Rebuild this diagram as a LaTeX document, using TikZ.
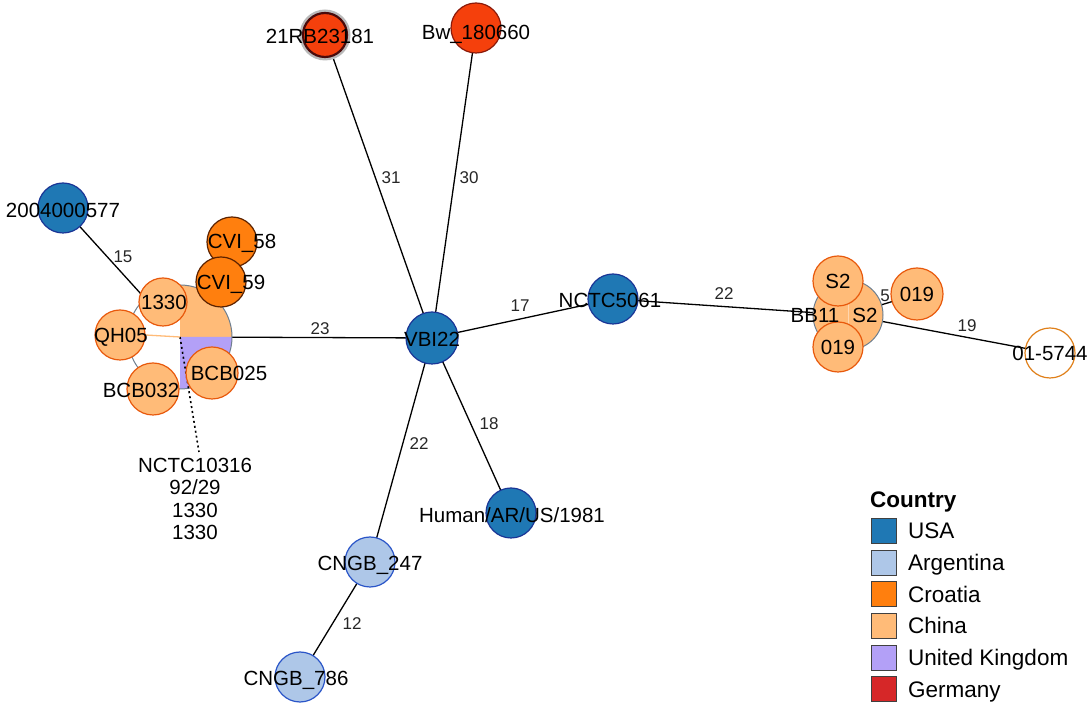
\documentclass[tikz,border=0pt]{standalone}
\usepackage{fontspec}
\setmainfont{Liberation Sans}
\usetikzlibrary{calc}
\pgfdeclarelayer{bg}
\pgfsetlayers{bg,main}
\definecolor{usa}{HTML}{1F78B4}
\definecolor{usaB}{HTML}{1A3596}
\definecolor{arg}{HTML}{AEC7E8}
\definecolor{argB}{HTML}{2A55C8}
\definecolor{cro}{HTML}{FF7F0E}
\definecolor{croB}{HTML}{5C2200}
\definecolor{chn}{HTML}{FFBB78}
\definecolor{chnB}{HTML}{E8590C}
\definecolor{uk}{HTML}{B3A0F7}
\definecolor{ger}{HTML}{D62728}
\definecolor{gerN}{HTML}{F5400C}
\definecolor{gerB}{HTML}{8B1A0A}
\definecolor{gerD}{HTML}{4A0A0A}
\definecolor{hubO}{HTML}{6F7F8F}
\definecolor{unk}{HTML}{E0801A}
\begin{document}
\begin{tikzpicture}[x=1pt,y=1pt,
  nd/.style={circle, minimum size=50pt, inner sep=0pt, line width=1.2pt},
  usaN/.style={nd, fill=usa, draw=usaB},
  argN/.style={nd, fill=arg, draw=argB},
  croN/.style={nd, fill=cro, draw=croB},
  chnN/.style={nd, fill=chn, draw=chnB},
  lbl/.style={font=\fontsize{20.5}{24}\selectfont, inner sep=0pt, text height=14.7pt, text depth=0pt},
  elbl/.style={font=\fontsize{17}{20}\selectfont, text=black!85, inner sep=0pt, text height=12.2pt, text depth=0pt},
  edgeline/.style={line width=1.3pt, black},
  legbox/.style={minimum size=25pt, inner sep=0pt, draw=black!75, line width=0.8pt},
  legtxt/.style={font=\fontsize{22.5}{26}\selectfont, anchor=west, inner sep=0pt, text height=16pt, text depth=0pt}]

\useasboundingbox (0,0) rectangle (1092,709);

% ---------- left hub (pie) ----------
\node[circle, minimum size=104pt, inner sep=0pt, fill=white] (hubL) at (180,372) {};
\fill[chn] (hubL.center) -- ++(52,0) arc[start angle=0, end angle=90, radius=52] -- cycle;
\fill[uk] (hubL.center) -- ++(0,-52) arc[start angle=270, end angle=360, radius=52] -- cycle;
\draw[hubO, line width=1pt] (hubL.center) circle[radius=52];
\coordinate (dotend) at (199,257);
\draw[line width=1.6pt, dash pattern=on 2pt off 3pt] (hubL.center) -- (dotend);

% ---------- nodes ----------
\draw[gray!55, line width=3pt] (325,674) circle[radius=24];
\node[nd, minimum size=44pt, fill=gerN, draw=gerD, line width=2.2pt] (r21) at (325,674) {};
\node[nd, fill=gerN, draw=gerB] (bw) at (476,681) {};
\node[usaN, minimum size=52pt] (vbi) at (432,371) {};
\node[usaN] (nctc5061) at (613,410) {};
\node[usaN] (n2004) at (63,501) {};
\node[usaN] (human) at (511,196) {};
\node[argN] (cngb247) at (370,147) {};
\node[argN] (cngb786) at (300,32) {};
\node[croN] (cvi58) at (232,467) {};
\node[croN] (cvi59) at (221,427) {};
\node[chnN, minimum size=48pt] (n1330) at (163,407) {};
\node[chnN] (qh05) at (120,374) {};
\node[chnN, minimum size=52pt] (bcb032) at (153,320) {};
\node[chnN, minimum size=52pt] (bcb025) at (212,336) {};

% right hub
\node[circle, minimum size=70pt, inner sep=0pt, fill=chn, draw=hubO, line width=1pt] (hubR) at (848,394) {};
\draw[chn!60!white, line width=0.8pt] (hubR.north) -- (hubR.south);
\node[chnN] (s2top) at (838,428) {};
\node[chnN] (n019b) at (838,362) {};
\node[chnN, minimum size=52pt] (n019r) at (917,415) {};
\node[nd, fill=white, draw=unk] (n5744) at (1050,356) {};

% ---------- edges ----------
\begin{pgfonlayer}{bg}
\draw[edgeline] (vbi.center) -- (r21.center);
\draw[edgeline] (vbi.center) -- (bw.center);
\draw[edgeline] (vbi.center) -- (nctc5061.center);
\draw[edgeline] (vbi.center) -- (hubL.center);
\draw[edgeline] (vbi.center) -- (human.center);
\draw[edgeline] (vbi.center) -- (cngb247.center);
\draw[edgeline] (cngb247.center) -- (cngb786.center);
\draw[edgeline] (n2004.center) -- (hubL.center);
\draw[edgeline] (nctc5061.center) -- (hubR.center);
\draw[edgeline] (hubR.center) -- (n5744.center);
\draw[edgeline] (hubR.center) -- (n019r.center);
\end{pgfonlayer}
\draw[chn, line width=1.3pt] (qh05.east) -- (hubL.center);

% ---------- node labels ----------
\node[lbl] (t21) at (320,673) {21RB23181};
\node[lbl] (tbw) at (476,677) {Bw\_180660};
\node[lbl] (tvbi) at (432,370) {VBI22};
\node[lbl] (tnctc) at (610,409) {NCTC5061};
\node[lbl] (t2004) at (63,499) {2004000577};
\node[lbl] (thuman) at (512,194) {Human/AR/US/1981};
\node[lbl] (t247) at (370,146) {CNGB\_247};
\node[lbl] (t786) at (296,31) {CNGB\_786};
\node[lbl] (t58) at (242,468) {CVI\_58};
\node[lbl] (t59) at (231,427) {CVI\_59};
\node[lbl] (t1330) at (164,407) {1330};
\node[lbl] (tqh) at (121,374) {QH05};
\node[lbl] (t032) at (141,319) {BCB032};
\node[lbl] (t025) at (229,336) {BCB025};
\node[lbl] (tbb) at (815,394) {BB11};
\node[lbl] (ts2h) at (865,394) {S2};
\node[lbl] (ts2) at (838,428) {S2};
\node[lbl] (t019b) at (838,362) {019};
\node[lbl] (t019r) at (917,415) {019};
\node[lbl] (t5744) at (1050,356) {01-5744};
\node[font=\fontsize{20.5}{22.3}\selectfont, inner sep=0pt, align=center] (thub) at (195,210) {NCTC10316\\92/29\\1330\\1330};

% ---------- edge labels ----------
\node[elbl] (e15) at (123,453) {15};
\node[elbl] (e23) at (320,381) {23};
\node[elbl] (e31) at (391,532) {31};
\node[elbl] (e30) at (469,532) {30};
\node[elbl] (e17) at (520,404) {17};
\node[elbl] (e22a) at (724,416) {22};
\node[elbl] (e22b) at (419,266) {22};
\node[elbl] (e18) at (489,286) {18};
\node[elbl] (e12) at (352,86) {12};
\node[elbl] (e19) at (967,384) {19};
\node[elbl] (e5) at (885,414) {5};

% ---------- legend ----------
\node[anchor=west, inner sep=0pt, font=\fontsize{22.5}{26}\selectfont\bfseries, text height=16pt, text depth=0pt] (legt) at (870,209) {Country};
\node[legbox, fill=usa] (b1) at (883.5,178) {};
\node[legbox, fill=arg] (b2) at (883.5,146.3) {};
\node[legbox, fill=cro] (b3) at (883.5,114.6) {};
\node[legbox, fill=chn] (b4) at (883.5,83) {};
\node[legbox, fill=uk] (b5) at (883.5,51.3) {};
\node[legbox, fill=ger] (b6) at (883.5,19.6) {};
\node[legtxt] (l1) at (908,178) {USA};
\node[legtxt] (l2) at (908,146.3) {Argentina};
\node[legtxt] (l3) at (908,114.6) {Croatia};
\node[legtxt] (l4) at (908,83) {China};
\node[legtxt] (l5) at (908,51.3) {United Kingdom};
\node[legtxt] (l6) at (908,19.6) {Germany};
\end{tikzpicture}
\end{document}
